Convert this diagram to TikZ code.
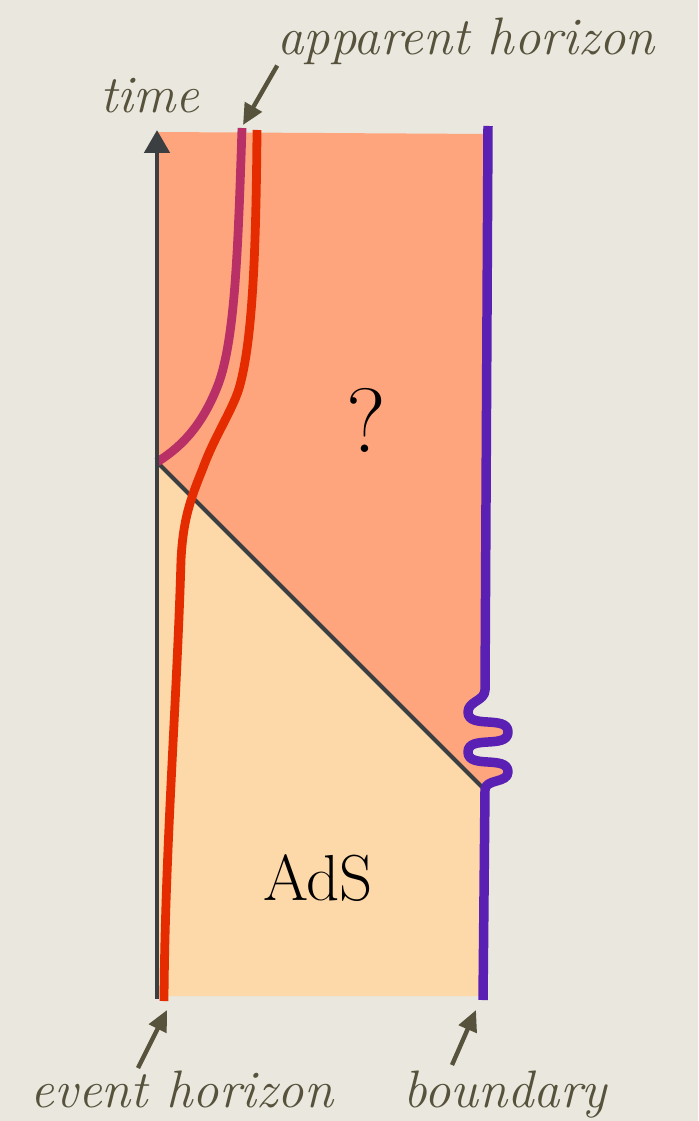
\documentclass[tikz,border=0pt]{standalone}
\usetikzlibrary{arrows.meta}
\definecolor{PaperBg}{HTML}{EAE8DE}
\definecolor{RegionOrange}{HTML}{FEA57D}
\definecolor{RegionPeach}{HTML}{FDD8A8}
\definecolor{HorizonRed}{HTML}{E52B00}
\definecolor{ApparentMagenta}{HTML}{B83065}
\definecolor{BoundaryPurple}{HTML}{5A20B4}
\definecolor{AxisGray}{HTML}{3C3F42}
\definecolor{LabelOlive}{HTML}{57523C}

\begin{document}
\begin{tikzpicture}[x=0.02cm,y=-0.02cm,line join=round,
  lbl/.style={font=\itshape\fontsize{30}{36}\selectfont,text=LabelOlive,inner sep=0pt,anchor=base},
  lblarrow/.style={LabelOlive,line width=2.5pt,-{Triangle[length=4.2mm,width=3.8mm]}}]
  \useasboundingbox (0,0) rectangle (698,1121); \fill[PaperBg] (0,0) rectangle (698,1121);
  \coordinate (O) at (157,999); \coordinate (T) at (157,130); \coordinate (K) at (157,462); \coordinate (W) at (485,790);
  % regions
  \fill[RegionOrange] (157,132) -- (488,134) -- (485,690) to[out=-90,in=90] (468,712) to[out=-90,in=90] (508,732)
    to[out=-90,in=90] (468,752) to[out=-90,in=90] (508,772) to[out=-90,in=90] (W) -- (K) -- cycle;
  \fill[RegionPeach] (K) -- (W) -- (485,996) -- (157,996) -- cycle;
  \draw[AxisGray,line width=2.4pt] (K) -- (W);
  % horizons
  \draw[ApparentMagenta,line width=5pt] (242,128) .. controls (238,250) and (235,340) .. (218,385) .. controls (204,421) and (185,445) .. (K);
  \draw[HorizonRed,line width=5pt] (257,130) .. controls (256,260) and (252,340) .. (240,385) .. controls (234,408) and (215,435) .. (203,468)
    .. controls (190,500) and (183,520) .. (181,560) .. controls (177,700) and (165,850) .. (164,1001);
  % boundary
  \draw[BoundaryPurple,line width=5.4pt] (488,126) -- (485,690) to[out=-90,in=90] (468,712) to[out=-90,in=90] (508,732)
    to[out=-90,in=90] (468,752) to[out=-90,in=90] (508,772) to[out=-90,in=90] (W) -- (483,1000);
  \draw[AxisGray,line width=2.8pt,-{Triangle[length=4.6mm,width=5mm]}] (O) -- (T);
  \node (q) [anchor=base,font=\fontsize{52}{62}\selectfont] at (366,452) {?};
  \node (ads) [anchor=base,font=\fontsize{37}{44}\selectfont] at (318,900) {AdS};
  % labels
  \node[lbl] (timelbl) at (150,113) {time};
  \node[lbl] (ahlbl) at (466,55) {apparent horizon};
  \node[lbl] (ehlbl) at (182,1107) {event horizon};
  \node[lbl] (bdlbl) at (505,1107) {boundary};
  \coordinate (ahtip) at (243,125); \coordinate (ehtail) at (138,1068); \coordinate (ehtip) at (167,1010);
  \coordinate (bdtail) at (452,1065); \coordinate (bdtip) at (476,1010);
  \draw[lblarrow] (ahlbl.south west) -- (ahtip); \draw[lblarrow] (ehtail) -- (ehtip); \draw[lblarrow] (bdtail) -- (bdtip);
\end{tikzpicture}
\end{document}
